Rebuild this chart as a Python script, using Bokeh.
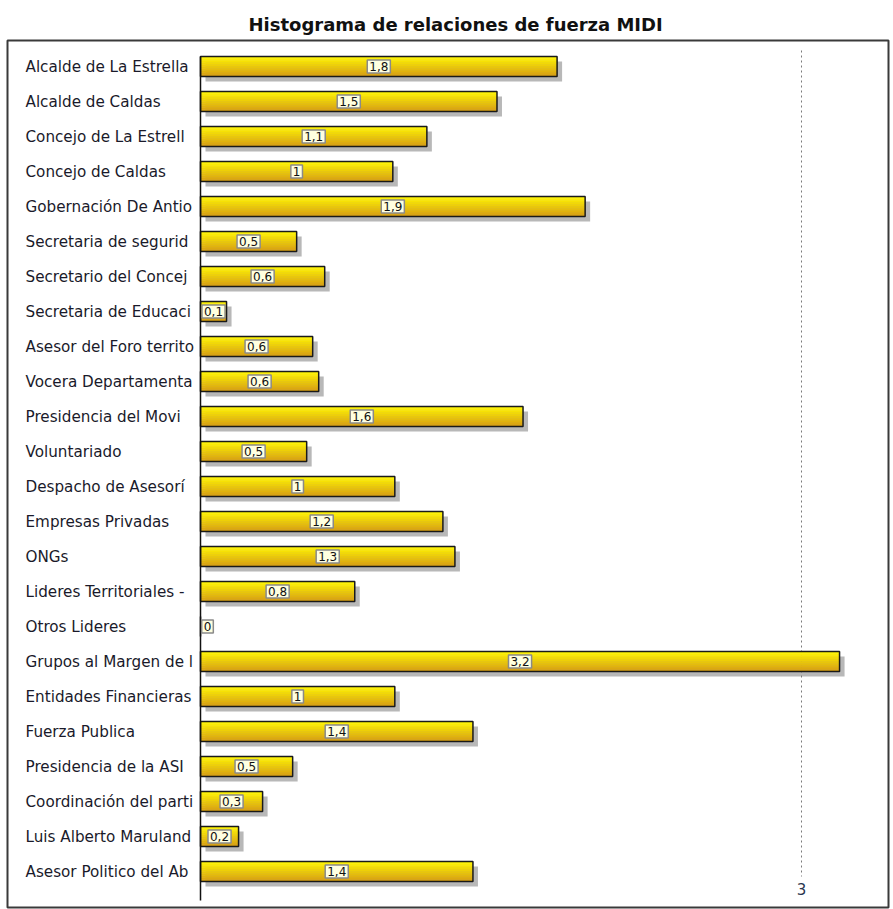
import numpy as np
from bokeh.plotting import figure
from bokeh.models import ColumnDataSource, Range1d
from bokeh.transform import dodge
from bokeh.core.properties import value
from bokeh.embed import file_html
from bokeh.resources import INLINE

# ---------------- data ----------------
categories = [
    "Alcalde de La Estrella", "Alcalde de Caldas", "Concejo de La Estrell",
    "Concejo de Caldas", "Gobernación De Antio", "Secretaria de segurid",
    "Secretario del Concej", "Secretaria de Educaci", "Asesor del Foro territo",
    "Vocera Departamenta", "Presidencia del Movi", "Voluntariado",
    "Despacho de Asesorí", "Empresas Privadas", "ONGs",
    "Lideres Territoriales -", "Otros Lideres", "Grupos al Margen de l",
    "Entidades Financieras", "Fuerza Publica", "Presidencia de la ASI",
    "Coordinación del parti", "Luis Alberto Maruland", "Asesor Politico del Ab",
]
values = [
    1.78, 1.48, 1.13, 0.96, 1.92, 0.48, 0.62, 0.13, 0.56, 0.59, 1.61, 0.53,
    0.97, 1.21, 1.27, 0.77, 0.0, 3.19, 0.97, 1.36, 0.46, 0.31, 0.19, 1.36,
]
tick_values = [3]
tick_labels = ["3"]
title_text = "Histograma de relaciones de fuerza MIDI"

# ---------------- layout constants ----------------
W, H = 893, 909
FL, FR, FT, FB = 7, 888, 40, 907      # frame edges (px)
X0_PX, X3_PX = 200, 801               # where 0 and 3 fall
K = (X3_PX - X0_PX) / 3.0             # px per unit
ROW0, STEP = 66, 35                   # first row centre, row step (px)
BAR_PX = 20

n = len(categories)
x_start = (FL - X0_PX) / K
x_end = (FR - X0_PX) / K
y_bot = (FB - ROW0) / STEP
y_top = (FT - ROW0) / STEP
bar_h = BAR_PX / STEP


def fmt(v):
    r = round(v, 1)
    s = ("%.1f" % r)
    if s.endswith(".0"):
        s = s[:-2]
    return s.replace(".", ",")


src = ColumnDataSource(dict(
    y=list(range(n)),
    cat=categories,
    v=values,
    lbl=[fmt(v) for v in values],
    lx=[max(v / 2.0, 7.0 / K) for v in values],
))

p = figure(
    width=W, height=H,
    x_range=Range1d(x_start, x_end), y_range=Range1d(y_bot, y_top),
    output_backend="svg", toolbar_location=None,
    x_axis_location=None, y_axis_location=None,
    min_border_left=FL, min_border_right=W - FR,
    min_border_top=FT, min_border_bottom=H - FB,
)
p.xgrid.visible = False
p.ygrid.visible = False
p.outline_line_color = "#3a3a3a"
p.outline_line_width = 2
p.background_fill_color = "white"
p.border_fill_color = "white"

p.title.text = title_text
p.title.align = "left"
p.title.offset = 241
p.title.text_font = "DejaVu Sans"
p.title.text_font_style = "bold"
p.title.text_font_size = "18px"
p.title.text_color = "#111111"
p.title.standoff = 11

# dotted reference line at the tick value
p.segment(x0=tick_values, x1=tick_values,
          y0=[(50 - ROW0) / STEP] * len(tick_values),
          y1=[(876 - ROW0) / STEP] * len(tick_values),
          line_color="#7a7a7a", line_width=1, line_dash="2 3")
p.text(x=tick_values, y=[(888 - ROW0) / STEP] * len(tick_values), text=tick_labels,
       text_font=value("DejaVu Sans"), text_font_size="15px",
       text_color="#2a3550", text_align="center", text_baseline="middle")

# shadows
p.hbar(y=dodge("y", 5.0 / STEP, range=p.y_range), left=5.0 / K,
       right=dodge("v", 5.0 / K, range=p.x_range), height=bar_h,
       fill_color="#7d7d7d", fill_alpha=0.55, line_color=None, source=src)

# gradient strips
top = np.array([0xFF, 0xF4, 0x00], dtype=float)
bot = np.array([0xD8, 0xA0, 0x10], dtype=float)
NS = 10
for j in range(NS):
    t = j / (NS - 1)
    c = top * (1 - t) + bot * t
    col = "#%02x%02x%02x" % tuple(int(round(x)) for x in c)
    off = -bar_h / 2 + (j + 0.5) * bar_h / NS
    p.hbar(y=dodge("y", off, range=p.y_range), left=0, right="v",
           height=bar_h / NS * 1.15, fill_color=col, line_color=None, source=src)

# bar outlines
p.hbar(y="y", left=0, right="v", height=bar_h, fill_color=None,
       line_color="#1a1a1a", line_width=1.5, source=src)

# value axis line
p.segment(x0=[0], x1=[0], y0=[-bar_h / 2], y1=[(900 - ROW0) / STEP],
          line_color="#111111", line_width=1.5)

# category labels
p.text(x=(25 - X0_PX) / K, y="y", text="cat", source=src,
       text_font=value("DejaVu Sans"), text_font_size="15.2px",
       text_color="#1a1a2a", text_align="left", text_baseline="middle")

# value labels
p.text(x="lx", y="y", text="lbl", source=src,
       text_font=value("DejaVu Sans"), text_font_size="12px",
       text_color="#111111", text_align="center", text_baseline="middle",
       background_fill_color="#FFFFE0", border_line_color="#8a8a8a",
       border_line_width=1.5, padding=2)

open("out.html", "w").write(file_html(p, INLINE))
